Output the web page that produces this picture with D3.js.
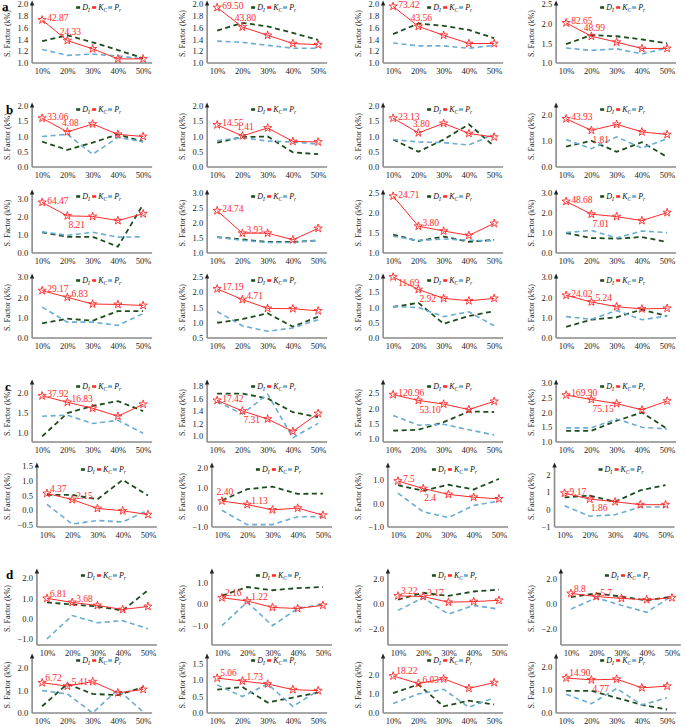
<!DOCTYPE html>
<html><head><meta charset="utf-8">
<script src="https://cdn.jsdelivr.net/npm/d3@7"></script>
<style>body{margin:0;background:#fff}svg{display:block}text{font-family:"Liberation Serif","Times New Roman",serif}</style>
</head><body><svg id="c" width="685" height="727"></svg>
<script>
const categories = ["10%","20%","30%","40%","50%"];
const sectionLabels = ["a","b","c","d"];
const seriesNames = [["D","I"],["K","C"],["P","r"]];
const yAxisTitle = "S. Factor (k%)";

const seriesKC = [
 [1.73,1.38,1.24,1.07,1.07],[1.94,1.61,1.47,1.33,1.31],[1.96,1.62,1.47,1.33,1.33],[2.02,1.68,1.53,1.37,1.37],
 [1.60,1.15,1.41,1.07,1.00],[1.38,1.02,1.28,0.84,0.82],[1.60,1.12,1.43,1.10,0.98],[1.84,1.40,1.63,1.34,1.24],
 [2.81,2.06,2.03,1.80,2.18],[2.41,1.66,1.66,1.44,1.82],[2.42,1.67,1.55,1.44,1.74],[2.58,1.94,1.82,1.62,2.02],
 [2.33,2.00,1.67,1.65,1.60],[2.11,1.76,1.47,1.46,1.39],[2.00,1.59,1.30,1.22,1.30],[2.10,1.77,1.54,1.43,1.46],
 [1.93,1.77,1.62,1.42,1.72],[1.57,1.40,1.27,1.07,1.36],[2.45,2.26,2.14,1.96,2.23],[2.59,2.44,2.30,2.09,2.39],
 [0.57,0.36,0.06,-0.02,-0.15],[0.32,0.14,-0.13,-0.04,-0.40],[0.96,0.64,0.39,0.27,0.20],[0.94,0.60,0.45,0.28,0.28],
 [1.00,0.80,0.65,0.45,0.60],[0.30,0.15,-0.15,-0.20,-0.05],[0.60,0.55,0.10,0.15,0.25],[0.80,0.55,0.40,0.30,0.45],
 [1.35,1.20,1.40,0.90,1.05],[1.06,0.97,0.88,0.71,0.68],[1.95,1.55,1.80,1.30,1.60],[1.50,1.42,1.45,1.08,1.15]
];
const seriesDI = [
 [1.37,1.47,1.35,1.22,1.08],[1.55,1.68,1.62,1.51,1.39],[1.49,1.67,1.63,1.56,1.42],[1.48,1.71,1.68,1.60,1.50],
 [0.83,0.56,0.80,1.07,0.83],[0.80,0.98,1.00,0.48,0.42],[0.90,0.50,0.90,1.40,0.68],[0.78,1.00,0.58,0.95,0.38],
 [1.15,0.90,0.90,0.35,2.70],[1.53,1.45,1.37,1.37,1.42],[1.46,1.30,1.41,1.28,1.33],[1.00,0.75,0.72,0.80,0.55],
 [0.72,0.95,0.85,1.32,1.32],[1.00,1.12,1.31,0.87,1.20],[1.02,1.15,0.47,0.72,0.88],[0.55,0.90,1.02,1.40,1.08],
 [0.92,1.50,1.68,1.80,1.55],[1.68,1.68,1.60,1.38,1.30],[1.27,1.30,1.55,1.90,1.88],[1.38,1.38,1.72,2.00,1.45],
 [0.52,0.52,0.37,1.03,0.50],[0.35,0.92,1.05,0.68,0.70],[0.78,0.55,0.80,0.60,1.05],[0.70,0.80,0.45,1.10,1.40],
 [0.80,0.70,0.60,0.40,1.40],[0.40,0.80,0.65,0.75,0.80],[0.30,0.85,0.60,0.95,1.10],[0.50,0.80,0.55,0.25,0.55],
 [0.30,1.30,0.85,0.80,1.15],[0.71,0.79,0.32,0.47,0.62],[1.05,1.50,0.35,0.65,0.45],[0.95,0.95,0.65,0.35,0.15]
];
const seriesPR = [
 [1.23,1.13,1.15,1.12,1.07],[1.37,1.35,1.30,1.25,1.25],[1.34,1.29,1.29,1.25,1.30],[1.38,1.32,1.36,1.23,1.38],
 [1.00,1.07,0.42,0.97,0.83],[0.87,0.96,0.85,0.82,0.75],[0.90,0.82,0.80,0.72,1.08],[1.05,0.70,1.15,0.72,1.08],
 [1.18,0.98,1.15,0.88,0.90],[1.53,1.42,1.35,1.35,1.42],[1.42,1.31,1.35,1.32,1.30],[1.02,1.13,0.75,1.10,1.02],
 [1.52,0.78,0.78,0.62,1.20],[1.37,0.90,0.72,0.83,1.10],[1.03,1.00,0.70,0.86,0.40],[1.05,0.92,1.35,0.90,1.08],
 [1.42,1.45,1.24,1.32,1.00],[1.55,1.35,1.67,0.97,1.20],[1.77,1.45,1.48,1.30,1.13],[1.48,1.48,1.78,1.50,1.44],
 [0.20,-0.47,-0.35,-0.40,0.00],[-0.15,-0.88,-0.88,-0.48,-0.48],[0.44,-0.35,-0.60,-0.08,0.10],[0.22,-0.38,-0.30,0.15,0.15],
 [-1.00,0.15,-0.20,-0.10,-0.50],[-1.00,0.10,-1.00,-0.20,0.00],[-0.55,0.45,-0.85,-0.15,-0.45],[-0.45,0.45,-0.15,-0.70,0.60],
 [1.00,0.85,0.00,1.05,0.05],[0.85,0.50,0.88,0.20,0.68],[0.50,1.00,1.25,0.30,0.80],[0.80,0.40,1.05,0.35,0.65]
];
const pointLabels = [
 ["42.87","24.33"],["69.50","43.80"],["73.42","43.56"],["82.65","48.99"],
 ["33.06","4.08"],["14.55","1.41"],["23.13","3.80"],["43.93","1.81"],
 ["64.47","8.21"],["24.74","3.93"],["24.71","3.80"],["48.68","7.01"],
 ["29.17","6.83"],["17.19","4.71"],["11.69","2.92"],["24.02","5.24"],
 ["37.92","16.83"],["17.42","7.31"],["120.96","53.10"],["169.90","75.15"],
 ["4.37","2.15"],["2.40","1.13"],["7.5","2.4"],["9.17","1.86"],
 ["6.81","3.68"],["2.16","1.22"],["3.22","3.17"],["8.8","5.7"],
 ["6.72","5.41"],["5.06","1.73"],["18.22","6.03"],["14.90","4.77"]
];
const yDomains = [
 [1,2],[1,2],[1,2],[1,2.5],
 [0,2],[0,2],[0,2],[0,2.33],
 [0,3.33],[1,3],[1,2.5],[0,3],
 [0,3],[0.5,2.5],[0,2],[0,3],
 [0.78,2.25],[0.9,1.85],[0.9,2.83],[1,3],
 [-0.57,1.5],[-1,2.1],[-1,1.6],[-1,2.5],
 [-1.3,2.3],[-1.9,1.5],[-3.3,2.5],[-3.3,2.5],
 [0,2.5],[0,1.7],[0,2.95],[0,2.4]
];
const yTicks = [
 [1,1.2,1.4,1.6,1.8,2],[1,1.2,1.4,1.6,1.8,2],[1,1.2,1.4,1.6,1.8,2],[1,1.5,2,2.5],
 [0,0.5,1,1.5,2],[0,0.5,1,1.5,2],[0,0.5,1,1.5,2],[0,1,2],
 [0,1,2,3],[1,1.5,2,2.5,3],[1,1.5,2,2.5],[0,1,2,3],
 [0,1,2,3],[0.5,1,1.5,2,2.5],[0,0.5,1,1.5,2],[0,1,2,3],
 [1,1.5,2],[1,1.2,1.4,1.6,1.8],[1,1.5,2,2.5],[1,1.5,2,2.5,3],
 [-0.5,0,0.5,1,1.5],[-1,0,1,2],[-1,0,1],[-1,0,1,2],
 [-1,0,1,2],[-1,0,1],[-2,0,2],[-2,0,2],
 [0,1,2],[0,0.5,1,1.5],[0,1,2],[0,1,2]
];
const yTickFormats = Array.from({length:32},(_,i)=> i===23 ? "d" : ".1f");
const label1Place = ["r","r","r","r","r","r","r","r","r","r","r","r","r","r","rb","r",
                     "r","r","r","r","ra","a","r","r","ra","ra","ra","ra","ra","ra","ra","ra"];
const label2Place = ["a","a","a","a","a","a","a","b","b","r","r","b","r","r","b","r",
                     "r","b","b","b","r","r","b","b","r","r","r","r","r","r","r","b"];

// ---------- drawing ----------
const svg = d3.select("#c");
const colTitleX = [7, 182, 358, 531];
const rowTop = [4,106,193,277,383,466,572,657];
const rowBot = [63,167,253,338,442,527,645,713];
const sectionPos = [[2,11],[6,114],[5,391],[6,579]];
const COL = {di:"#1f4d1f", kc:"#ff2a2a", pr:"#6aadd2", axis:"#8a8a8a", text:"#222"};
const FONT = "Liberation Serif";

const meas = svg.append("text").attr("font-size",8.5).attr("font-family",FONT).style("visibility","hidden");
function tw(s){ meas.text(s); return meas.node().getComputedTextLength(); }

sectionPos.forEach((p,k)=>{
  svg.append("text").attr("x",p[0]).attr("y",p[1]).attr("font-size",13).attr("font-weight","bold")
    .attr("font-family",FONT).attr("fill","#000").text(sectionLabels[k]);
});

const star = d3.symbol(d3.symbolStar, 21);

for(let i=0;i<32;i++){
  const r = Math.floor(i/4), c = i%4;
  const fmt = d3.format(yTickFormats[i]);
  const labW = d3.max(yTicks[i], t=>tw(fmt(t)));
  const x0 = colTitleX[c] + 14.5 + labW;
  const top = rowTop[r], bot = rowBot[r];
  const x = d3.scalePoint().domain(categories).range([x0+10, x0+111]);
  const y = d3.scaleLinear().domain(yDomains[i]).range([bot, top]);
  const g = svg.append("g");

  g.append("text").attr("transform",`translate(${colTitleX[c]},${(top+bot)/2}) rotate(-90)`)
    .attr("text-anchor","middle").attr("dy","0.33em").attr("font-size",8).attr("font-family",FONT)
    .attr("fill",COL.text).text(yAxisTitle);

  const ga = g.append("g").attr("transform",`translate(${x0},0)`)
    .call(d3.axisLeft(y).tickValues(yTicks[i]).tickFormat(fmt).tickSize(0).tickPadding(4));
  ga.select(".domain").remove();
  ga.attr("font-family",FONT).attr("font-size",8.5);
  ga.selectAll("text").attr("fill",COL.text);

  const gx = g.append("g").attr("transform",`translate(0,${bot})`)
    .call(d3.axisBottom(x).tickSize(0).tickPadding(5));
  gx.select(".domain").remove();
  gx.attr("font-family",FONT).attr("font-size",8.5);
  gx.selectAll("text").attr("fill",COL.text);

  g.append("line").attr("x1",x0).attr("x2",x0+120).attr("y1",bot).attr("y2",bot)
    .attr("stroke",COL.axis).attr("stroke-width",1.3);
  g.append("line").attr("x1",x0).attr("x2",x0).attr("y1",bot).attr("y2",top-1)
    .attr("stroke",COL.axis).attr("stroke-width",1.6);
  g.append("path").attr("d",`M${x0-2.2},${top+1.5}L${x0+2.2},${top+1.5}L${x0},${top-3.5}Z`).attr("fill","#222");

  const line = d3.line().x((d,j)=>x(categories[j])).y(d=>y(d));
  g.append("path").attr("d",line(seriesDI[i])).attr("fill","none").attr("stroke",COL.di)
    .attr("stroke-width",1.8).attr("stroke-dasharray","5,3.5");
  g.append("path").attr("d",line(seriesPR[i])).attr("fill","none").attr("stroke",COL.pr)
    .attr("stroke-width",1.6).attr("stroke-dasharray","5,3.5");
  g.append("path").attr("d",line(seriesKC[i])).attr("fill","none").attr("stroke",COL.kc).attr("stroke-width",1);
  seriesKC[i].forEach((v,j)=>{
    g.append("path").attr("d",star()).attr("transform",`translate(${x(categories[j])},${y(v)})`)
      .attr("stroke",COL.kc).attr("stroke-width",0.9).attr("fill","none");
  });

  const place = (lab, j, mode)=>{
    const px = x(categories[j]), py = y(seriesKC[i][j]);
    let tx=px+5, ty=py-2, anchor="start";
    if(mode==="a"){ tx=px+3; ty=py-9; anchor="middle"; }
    else if(mode==="b"){ tx=px+1; ty=py+9; }
    else if(mode==="r"){ tx=px+4; ty=py-4; if(j===0){ty=py-2; tx=px+5;} }
    else if(mode==="ra"){ tx=px+3; ty=py-5; }
    else if(mode==="rb"){ tx=px+5; ty=py+6; }
    g.append("text").attr("x",tx).attr("y",ty).attr("dy","0.35em").attr("text-anchor",anchor)
      .attr("font-size",9.5).attr("font-family",FONT).attr("fill",COL.kc).text(lab);
  };
  place(pointLabels[i][0],0,label1Place[i]);
  place(pointLabels[i][1],1,label2Place[i]);

  let lx = x0 + 44; const ly = top + 3.5;
  [COL.di, COL.kc, COL.pr].forEach((col,k)=>{
    g.append("line").attr("x1",lx).attr("x2",lx+4).attr("y1",ly).attr("y2",ly)
      .attr("stroke",col).attr("stroke-width",2.6);
    const t = g.append("text").attr("x",lx+6).attr("y",ly+2.8).attr("font-size",8)
      .attr("font-family",FONT).attr("font-style","italic").attr("fill","#111");
    t.append("tspan").text(seriesNames[k][0]);
    t.append("tspan").attr("font-size",5.5).attr("dy",1.8).text(seriesNames[k][1]);
    lx += 16;
  });
}
meas.remove();
</script></body></html>
